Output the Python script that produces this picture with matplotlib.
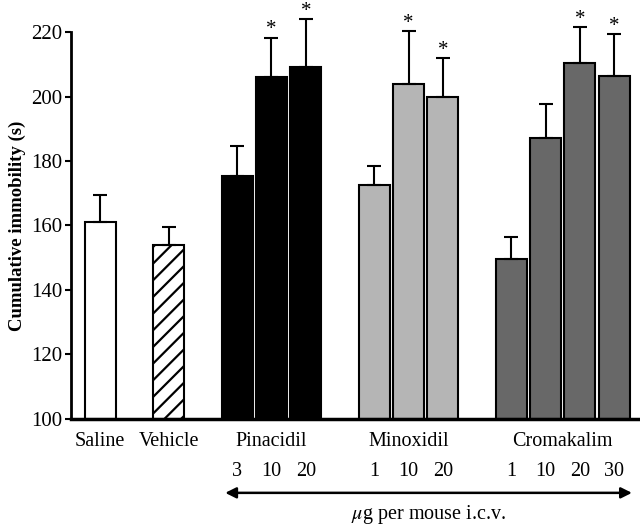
import matplotlib
matplotlib.use("Agg")
import matplotlib.pyplot as plt

# ---- data ----
groups = ['Saline', 'Vehicle', 'Pinacidil', 'Minoxidil', 'Cromakalim']
doses = [[''], [''], ['3', '10', '20'], ['1', '10', '20'], ['1', '10', '20', '30']]
means = [[161.0], [154.0], [175.5, 206.0, 209.0], [172.5, 204.0, 200.0],
         [149.5, 187.0, 210.5, 206.5]]
errors = [[8.5], [5.6], [9.0, 12.3, 15.0], [5.8, 16.2, 12.0], [7.0, 10.6, 11.0, 12.8]]
signif = [[False], [False], [False, True, True], [False, True, True],
          [False, False, True, True]]
yticks = [100, 120, 140, 160, 180, 200, 220]
ylabel = 'Cumulative immobility (s)'
xlabel = r'$\mu$g per mouse i.c.v.'

# ---- styles ----
colors = ['white', 'white', 'black', '#b5b5b5', '#686868']
hatches = [None, '//', None, None, None]

plt.rcParams['font.family'] = ['Liberation Serif', 'DejaVu Serif']
plt.rcParams['mathtext.fontset'] = 'stix'
plt.rcParams['hatch.linewidth'] = 1.6

fig = plt.figure(figsize=(6.4, 5.25), dpi=100)
ax = fig.add_axes([0.111, 0.202, 0.886, 0.737])

trans = ax.get_xaxis_transform()
x = 0
group_centers = []
first_dose_x = None
last_x = 0
for gi, g in enumerate(groups):
    xs = []
    for bi, m in enumerate(means[gi]):
        e = errors[gi][bi]
        ax.bar(x, m - 100, bottom=100, width=0.9, color=colors[gi],
               edgecolor='black', linewidth=1.5, hatch=hatches[gi], zorder=2)
        ax.errorbar(x, m, yerr=[[0], [e]], fmt='none', ecolor='black',
                    elinewidth=1.5, capsize=5, capthick=1.5, zorder=3, clip_on=False)
        if signif[gi][bi]:
            ax.text(x, m + e - 0.6, '*', ha='center', va='bottom', fontsize=15,
                    clip_on=False)
        if doses[gi][bi]:
            ax.text(x, -0.137, doses[gi][bi], transform=trans, ha='center',
                    va='center', fontsize=14.5)
            if first_dose_x is None:
                first_dose_x = x
        xs.append(x)
        last_x = x
        x += 1
    group_centers.append(sum(xs) / len(xs))
    x += 1

for gi, g in enumerate(groups):
    ax.text(group_centers[gi], -0.057, g, transform=trans, ha='center',
            va='center', fontsize=14.5)

x0 = first_dose_x - 0.35
x1 = last_x + 0.52
ax.annotate('', xy=(x0, -0.191), xycoords=trans,
            xytext=(x1, -0.191), textcoords=trans,
            arrowprops=dict(arrowstyle='<|-|>', color='black', lw=1.8,
                            mutation_scale=16, shrinkA=0, shrinkB=0))
ax.text((x0 + x1) / 2, -0.248, xlabel, transform=trans,
        ha='center', va='center', fontsize=14.5)

ax.set_xlim(-0.85, 15.7)
ax.set_ylim(100, 220)
ax.set_yticks(yticks)
ax.set_yticklabels([str(t) for t in yticks], fontsize=15)
ax.set_xticks([])
ax.set_ylabel(ylabel, fontsize=13.5, fontweight='bold', labelpad=4)
for s in ['top', 'right']:
    ax.spines[s].set_visible(False)
ax.spines['left'].set_linewidth(2)
ax.spines['bottom'].set_linewidth(2.5)
ax.tick_params(axis='y', direction='out', length=4, width=1.5, pad=2)

fig.savefig('out.png', dpi=100)
